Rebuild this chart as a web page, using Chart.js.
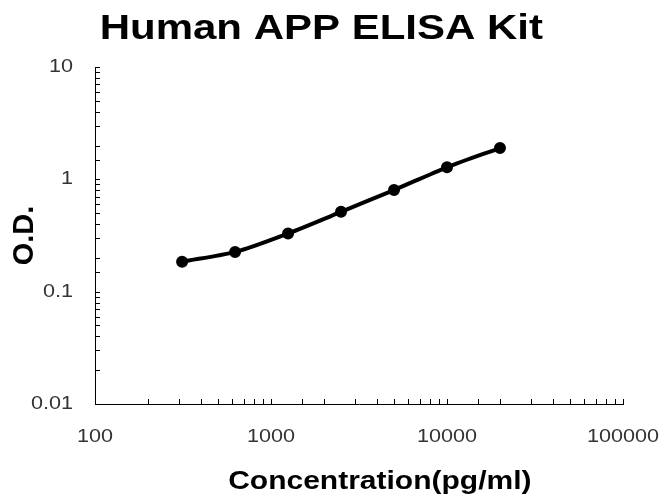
<!DOCTYPE html>
<html>
<head>
<meta charset="utf-8">
<script src="https://cdn.jsdelivr.net/npm/chart.js@4/dist/chart.umd.min.js"></script>
<style>
  html, body { margin: 0; padding: 0; background: #fff; }
  #wrap { width: 660px; height: 495px; }
</style>
</head>
<body>
<div id="wrap"><canvas id="myChart" width="660" height="495"></canvas></div>
<script>
const concentrations = [312.5, 625, 1250, 2500, 5000, 10000, 20000];
const odValues = [0.185, 0.226, 0.330, 0.514, 0.803, 1.28, 1.90];
const xTickLabels = [100, 1000, 10000, 100000];
const yTickLabels = [0.01, 0.1, 1, 10];

const points = concentrations.map((c, i) => ({ x: c, y: odValues[i] }));
const FONT = 'Liberation Sans, Arial, sans-serif';

// the original picture is a bit wider than tall, so horizontal text looks stretched
const stretchText = {
  id: 'stretchText',
  beforeDraw(chart) {
    const ctx = chart.ctx;
    if (ctx._stretched) return;
    const orig = ctx.fillText.bind(ctx);
    ctx.fillText = function(text, x, y, maxWidth) {
      const m = ctx.getTransform();
      if (Math.abs(m.b) > 1e-6) {
        return maxWidth === undefined ? orig(text, x, y) : orig(text, x, y, maxWidth);
      }
      ctx.save();
      ctx.translate(x, y);
      ctx.scale(1.2, 1);
      if (maxWidth === undefined) orig(text, 0, 0); else orig(text, 0, 0, maxWidth);
      ctx.restore();
    };
    ctx._stretched = true;
  }
};

// short tick marks drawn inward from the axis lines
const innerTicks = {
  id: 'innerTicks',
  afterDraw(chart) {
    const ctx = chart.ctx;
    const xs = chart.scales.x, ys = chart.scales.y;
    const area = chart.chartArea;
    ctx.save();
    ctx.strokeStyle = '#000';
    ctx.lineWidth = 1;
    ctx.beginPath();
    xs.ticks.forEach(t => {
      const px = Math.round(xs.getPixelForValue(t.value)) + 0.5;
      ctx.moveTo(px, area.bottom);
      ctx.lineTo(px, area.bottom - 5);
    });
    ys.ticks.forEach(t => {
      const py = Math.round(ys.getPixelForValue(t.value)) + 0.5;
      ctx.moveTo(area.left, py);
      ctx.lineTo(area.left + 5, py);
    });
    ctx.stroke();
    ctx.restore();
  }
};

const isDecade = v => Math.abs(Math.log10(v) - Math.round(Math.log10(v))) < 1e-9;

const ctx = document.getElementById('myChart').getContext('2d');
const myChart = new Chart(ctx, {
  type: 'scatter',
  data: {
    datasets: [{
      data: points,
      showLine: true,
      borderColor: '#000',
      backgroundColor: '#000',
      borderWidth: 4,
      pointRadius: 4,
      pointHoverRadius: 4,
      tension: 0.3
    }]
  },
  options: {
    responsive: false,
    animation: false,
    layout: { padding: { left: 8, right: 37, top: 0, bottom: 0 } },
    plugins: {
      legend: { display: false },
      tooltip: { enabled: false },
      title: {
        display: true,
        // one leading space moves it slightly right, like the original
        text: ' Human APP ELISA Kit',
        color: '#000',
        font: { family: FONT, size: 35, weight: 'bold', lineHeight: 1.2 },
        padding: { top: 8, bottom: 17 }
      }
    },
    scales: {
      x: {
        type: 'logarithmic',
        min: 100,
        max: 100000,
        afterFit: s => { s.height = 91; s.paddingLeft = 0; s.paddingRight = 0; },
        grid: { drawOnChartArea: false, drawTicks: false },
        border: { display: true, color: '#000', width: 1 },
        ticks: {
          autoSkip: false,
          maxRotation: 0,
          padding: 22,
          color: '#333',
          font: { family: FONT, size: 18 },
          callback: v => (isDecade(v) && xTickLabels.includes(Math.round(v))) ? String(Math.round(v)) : ''
        },
        title: {
          display: true,
          // leading spaces nudge the title right of the plot centre, as in the original
          text: '     Concentration(pg/ml)',
          color: '#000',
          font: { family: FONT, size: 25, weight: 'bold', lineHeight: 1 },
          padding: { top: 0, bottom: 0 }
        }
      },
      y: {
        type: 'logarithmic',
        min: 0.01,
        max: 10,
        afterFit: s => { s.width = 87; s.paddingTop = 0; s.paddingBottom = 0; },
        grid: { drawOnChartArea: false, drawTicks: false },
        border: { display: true, color: '#000', width: 1 },
        ticks: {
          autoSkip: false,
          padding: 22,
          color: '#333',
          font: { family: FONT, size: 18 },
          callback: v => {
            if (!isDecade(v)) return '';
            const match = yTickLabels.find(l => Math.abs(l - v) / l < 1e-6);
            return match === undefined ? '' : String(match);
          }
        },
        title: {
          display: true,
          text: 'O.D.',
          color: '#000',
          font: { family: FONT, size: 29, weight: 'bold', lineHeight: 1.2 },
          padding: { top: 0, bottom: 0 }
        }
      }
    }
  },
  plugins: [stretchText, innerTicks]
});
</script>
</body>
</html>
